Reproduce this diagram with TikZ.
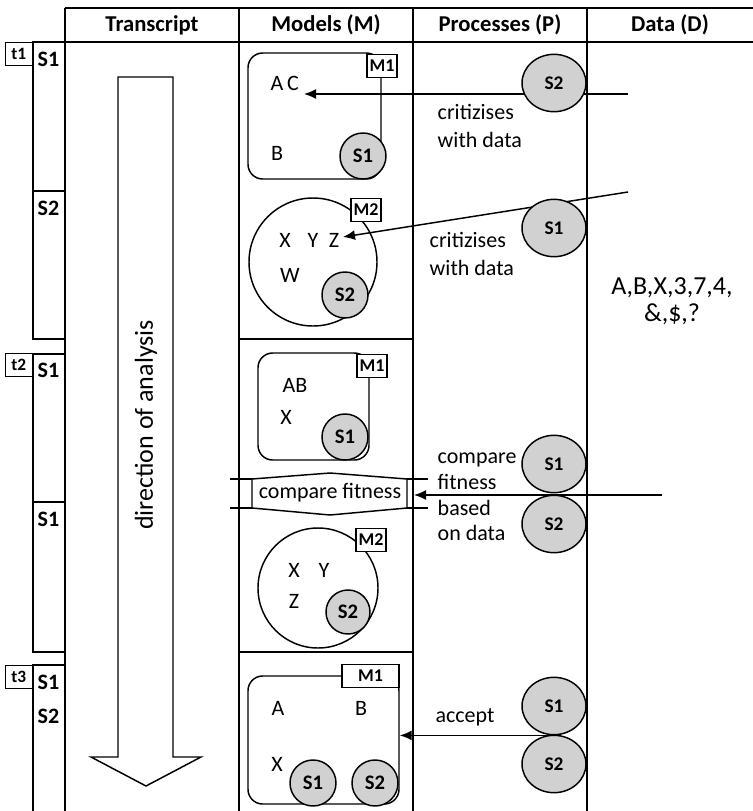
\documentclass[tikz,border=0pt]{standalone}
\usepackage{fontspec}
\setmainfont{Carlito}
\usetikzlibrary{shapes.geometric,arrows.meta}

\begin{document}
\begin{tikzpicture}[x=0.75pt,y=-0.75pt,line width=1.1pt,
  every node/.style={font=\fontsize{16.5}{20}\selectfont},
  hd/.style={font=\bfseries\fontsize{17}{20}\selectfont},
  seg/.style={font=\bfseries\fontsize{16.5}{20}\selectfont,anchor=west,inner sep=0pt},
  tbox/.style={draw,font=\bfseries\fontsize{13}{14}\selectfont,minimum width=20.25pt,minimum height=17.25pt,inner sep=0pt,anchor=north east},
  tag/.style={draw,fill=white,font=\bfseries\fontsize{13.5}{14}\selectfont,minimum width=22.5pt,minimum height=17pt,inner sep=0pt},
  spk/.style={circle,draw,fill=black!18,minimum size=34.5pt,inner sep=0pt,font=\bfseries\fontsize{15.5}{15}\selectfont},
  proc/.style={ellipse,draw,fill=black!18,minimum width=48pt,minimum height=43pt,inner sep=0pt,font=\bfseries\fontsize{14.5}{15}\selectfont},
  mrect/.style={draw,rounded corners=11pt,inner sep=0pt},
  mcirc/.style={draw,circle,inner sep=0pt},
  msg/.style={-{Latex[length=9pt,width=7.5pt]}},
  note/.style={align=left,anchor=west,inner sep=0pt}]
\useasboundingbox (0,0) rectangle (753,811);
% table
\draw (65,8) -- (753,8) (65,42) -- (753,42);
\foreach \x in {65,239,413,587} \draw (\x,8) -- (\x,811);
\draw (239,339) -- (413,339) (239,652) -- (413,652);
\foreach \x/\name/\txt in {152/hT/Transcript, 326/hM/Models (M), 500/hP/Processes (P), 670/hD/Data (D)}
  \node[hd] (\name) at (\x,25) {\txt};
% transcript segments
\foreach \ya/\yb in {42/191, 191/339, 354/502, 502/652}
  \draw (33,\ya) rectangle (65,\yb);
\draw (65,665) -- (33,665) -- (33,811);
\foreach \y/\name/\txt in {59/lA/S1, 208/lB/S2, 370/lC/S1, 519/lD/S1, 682/lE/S1, 716/lF/S2}
  \node[seg] (\name) at (37,\y) {\txt};
\foreach \y/\name/\txt in {42/tA/t1, 353/tB/t2, 665/tC/t3}
  \node[tbox] (\name) at (33,\y) {\txt};
% direction of analysis
\draw (118,77) -- (173,77) -- (173,757) -- (201,757) -- (146,786) -- (91,757) -- (118,757) -- cycle;
\node[rotate=90,font=\fontsize{19.5}{20}\selectfont] (dir) at (146,425) {direction of analysis};
% t1: M1
\node[mrect,minimum width=99.75pt,minimum height=94.5pt] (mA) at (314.5,116) {};
\node (aA) at (277,83) {A};
\node (cA) at (293,83) {C};
\node (bA) at (277,153) {B};
\node[tag] (gA) at (382,66) {M1};
\node[spk] (s1A) at (363,156) {S1};
% t1: M2
\node[mcirc,minimum size=96pt] (mB) at (313,262) {};
\node[tag] (gB) at (366,210) {M2};
\node (xB) at (285,240) {X};
\node (yB) at (313,240) {Y};
\node (zB) at (334,240) {Z};
\node (wB) at (290,275) {W};
\node[spk] (s2B) at (345,295) {S2};
% t1: criticism
\coordinate (srcA) at (628,94);
\coordinate (tipA) at (304,94);
\draw[msg] (srcA) -- (tipA);
\coordinate (srcB) at (628,192);
\coordinate (tipB) at (343,237);
\draw[msg] (srcB) -- (tipB);
\node[proc] (pA) at (554,83) {S2};
\node[proc] (pB) at (554,228) {S1};
\node[note,font=\fontsize{16.5}{21}\selectfont] (critA) at (437,126) {critizises\\with data};
\node[note,font=\fontsize{16.5}{21}\selectfont] (critB) at (429,254) {critizises\\with data};
% data
\node[align=center,font=\fontsize{19.5}{20.5}\selectfont] (data) at (672,301) {A,B,X,3,7,4,\\\&,\$,?};
% t2: M1
\node[mrect,minimum width=83.25pt,minimum height=80.25pt] (mC) at (313.5,406.5) {};
\node[tag] (gC) at (372,366) {M1};
\node (abC) at (295,385) {AB};
\node (xC) at (286,417) {X};
\node[spk] (s1C) at (345,437) {S1};
% t2: compare fitness
\draw[fill=white] (252,479) -- (330,473) -- (407,479) -- (407,508) -- (330,515) -- (252,508) -- cycle;
\draw (230,479) -- (252,479) (407,479) -- (428,479) (230,508) -- (252,508) (407,508) -- (428,508);
\node[inner sep=0pt] (fit) at (330,493) {compare fitness};
\coordinate (srcC) at (662,495);
\coordinate (tipC) at (414,495);
\draw[msg] (srcC) -- (tipC);
\node[proc] (pC) at (554,464) {S1};
\node[proc] (pD) at (554,524) {S2};
\node[note,font=\fontsize{16.5}{19.3}\selectfont] (cmpC) at (437,497) {compare\\fitness\\based\\on data};
% t2: M2
\node[mcirc,minimum size=90pt] (mD) at (318,588) {};
\node[tag] (gD) at (371,540) {M2};
\node (xD) at (294,570) {X};
\node (yD) at (324,570) {Y};
\node (zD) at (294,601) {Z};
\node[spk,minimum size=33pt] (s2D) at (348,612) {S2};
% t3: accepted M1
\node[mrect,minimum width=113.25pt,minimum height=96pt] (mE) at (323.5,740) {};
\node[tag,minimum width=42.75pt] (gE) at (370.5,676) {M1};
\node (aE) at (278,708) {A};
\node (bE) at (361,708) {B};
\node (xE) at (277,764) {X};
\node[spk] (s1E) at (313,783) {S1};
\node[spk] (s2E) at (375,783) {S2};
\node[proc] (pE) at (554,706) {S1};
\node[proc] (pF) at (554,764) {S2};
\draw[msg] (pE.south) -- (mE.east |- pE.south);
\node (acc) at (465,717) {accept};
\end{tikzpicture}
\end{document}
